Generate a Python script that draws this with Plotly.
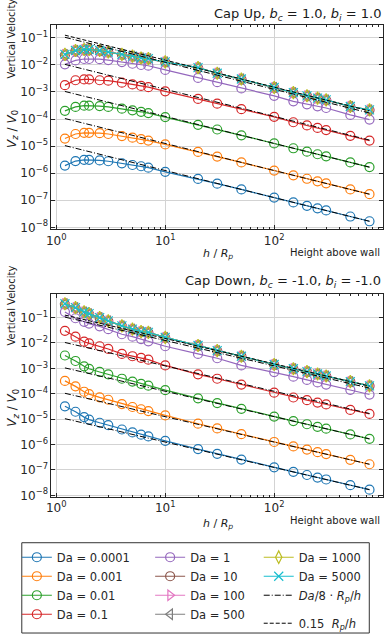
import plotly.graph_objects as go

# heights above the wall, h / R_p
H = [1.2, 1.5, 1.8, 2, 2.5, 3, 4, 5, 6, 7, 10, 20, 30, 50, 100, 150, 200, 250, 300, 500, 750]

DA_LABELS = ["0.0001", "0.001", "0.01", "0.1", "1", "10", "100", "500", "1000", "5000"]

# Cap up, b_c = 1.0, b_i = 1.0
UP_1E4 = [1.9e-6, 2.8e-6, 3.1e-6, 3.1e-6, 2.95e-6, 2.75e-6, 2.3e-6, 2.0e-6, 1.8e-6, 1.6e-6, 1.12e-6,
          6.1e-7, 4.1e-7, 2.5e-7, 1.25e-7, 8.3e-8, 6.2e-8, 5.0e-8, 4.2e-8, 2.5e-8, 1.67e-8]
UP_1E3 = [1.9e-5, 2.8e-5, 3.1e-5, 3.1e-5, 3.0e-5, 2.8e-5, 2.35e-5, 2.05e-5, 1.8e-5, 1.6e-5, 1.15e-5,
          6.1e-6, 4.1e-6, 2.5e-6, 1.25e-6, 8.3e-7, 6.2e-7, 5.0e-7, 4.2e-7, 2.5e-7, 1.67e-7]
UP_1E2 = [2.0e-4, 2.8e-4, 3.1e-4, 3.1e-4, 3.0e-4, 2.8e-4, 2.4e-4, 2.1e-4, 1.85e-4, 1.65e-4, 1.18e-4,
          6.1e-5, 4.1e-5, 2.5e-5, 1.25e-5, 8.3e-6, 6.2e-6, 5.0e-6, 4.2e-6, 2.5e-6, 1.67e-6]
UP_1E1 = [1.78e-3, 2.7e-3, 2.9e-3, 2.9e-3, 2.7e-3, 2.6e-3, 2.2e-3, 1.9e-3, 1.67e-3, 1.5e-3, 1.05e-3,
          5.5e-4, 3.7e-4, 2.3e-4, 1.2e-4, 7.6e-5, 5.8e-5, 4.7e-5, 3.9e-5, 2.4e-5, 1.6e-5]
UP_1 = [1.05e-2, 1.46e-2, 1.65e-2, 1.65e-2, 1.62e-2, 1.5e-2, 1.27e-2, 1.1e-2, 9.9e-3, 9.3e-3, 6.5e-3,
        3.3e-3, 2.3e-3, 1.35e-3, 7.2e-4, 4.5e-4, 3.5e-4, 2.95e-4, 2.55e-4, 1.42e-4, 9.5e-5]
UP_10 = [2.3e-2, 3.3e-2, 3.5e-2, 3.5e-2, 3.3e-2, 2.95e-2, 2.4e-2, 2.05e-2, 1.8e-2, 1.65e-2, 1.27e-2,
         7.8e-3, 4.9e-3, 3.0e-3, 1.45e-3, 9.4e-4, 7.2e-4, 5.9e-4, 5.0e-4, 2.9e-4, 2.15e-4]
UP_HIGH = [2.45e-2, 3.4e-2, 3.7e-2, 3.7e-2, 3.4e-2, 3.0e-2, 2.45e-2, 2.1e-2, 1.8e-2, 1.7e-2, 1.29e-2,
           7.9e-3, 4.9e-3, 3.0e-3, 1.46e-3, 9.4e-4, 7.2e-4, 5.9e-4, 5.1e-4, 2.9e-4, 2.18e-4]

# Cap down, b_c = -1.0, b_i = -1.0
DN_1E4 = [3.2e-5, 1.95e-5, 1.2e-5, 9.6e-6, 7.2e-6, 5.8e-6, 3.9e-6, 3.0e-6, 2.45e-6, 2.08e-6, 1.4e-6,
          6.6e-7, 4.3e-7, 2.55e-7, 1.26e-7, 8.4e-8, 6.3e-8, 5.0e-8, 4.2e-8, 2.5e-8, 1.67e-8]
DN_1E3 = [3.2e-4, 1.95e-4, 1.2e-4, 9.6e-5, 7.2e-5, 5.8e-5, 3.9e-5, 3.0e-5, 2.45e-5, 2.08e-5, 1.4e-5,
          6.6e-6, 4.3e-6, 2.55e-6, 1.26e-6, 8.4e-7, 6.3e-7, 5.0e-7, 4.2e-7, 2.5e-7, 1.67e-7]
DN_1E2 = [3.2e-3, 1.95e-3, 1.2e-3, 9.6e-4, 7.2e-4, 5.8e-4, 3.9e-4, 3.0e-4, 2.45e-4, 2.08e-4, 1.38e-4,
          6.6e-5, 4.3e-5, 2.55e-5, 1.26e-5, 8.4e-6, 6.3e-6, 5.0e-6, 4.2e-6, 2.5e-6, 1.67e-6]
DN_1E1 = [3.0e-2, 1.76e-2, 1.12e-2, 9.6e-3, 7.4e-3, 5.8e-3, 3.7e-3, 3.0e-3, 2.6e-3, 2.2e-3, 1.3e-3,
          5.8e-4, 3.9e-4, 2.3e-4, 1.1e-4, 7.1e-5, 5.6e-5, 4.5e-5, 3.8e-5, 2.3e-5, 1.6e-5]
DN_1 = [0.167, 9.4e-2, 6.8e-2, 5.8e-2, 4.5e-2, 3.5e-2, 2.2e-2, 1.77e-2, 1.42e-2, 1.16e-2, 7.4e-3,
        3.7e-3, 2.5e-3, 1.3e-3, 7.1e-4, 4.7e-4, 3.5e-4, 2.8e-4, 2.3e-4, 1.42e-4, 9.3e-5]
DN_10 = [0.33, 0.235, 0.16, 0.138, 9.7e-2, 7.2e-2, 4.6e-2, 3.4e-2, 2.75e-2, 2.55e-2, 1.62e-2,
         7.8e-3, 4.9e-3, 3.0e-3, 1.4e-3, 9.5e-4, 7.3e-4, 5.9e-4, 5.0e-4, 3.0e-4, 2.03e-4]
DN_HIGH = [0.35, 0.245, 0.167, 0.143, 0.10, 7.4e-2, 4.7e-2, 3.5e-2, 2.8e-2, 2.6e-2, 1.65e-2,
           7.9e-3, 5.0e-3, 3.0e-3, 1.42e-3, 9.6e-4, 7.4e-4, 6.0e-4, 5.0e-4, 3.0e-4, 2.05e-4]

UP = [UP_1E4, UP_1E3, UP_1E2, UP_1E1, UP_1, UP_10, UP_HIGH, UP_HIGH, UP_HIGH, UP_HIGH]
DOWN = [DN_1E4, DN_1E3, DN_1E2, DN_1E1, DN_1, DN_10, DN_HIGH, DN_HIGH, DN_HIGH, DN_HIGH]

# reference scalings
DA_REF = [0.0001, 0.001, 0.01, 0.1, 1]
FAR_COEF = 0.15

COLORS = ["#1f77b4", "#ff7f0e", "#2ca02c", "#d62728", "#9467bd",
          "#8c564b", "#e377c2", "#7f7f7f", "#bcbd22", "#17becf"]
SYMBOLS = ["circle-open"] * 6 + ["triangle-right-open", "triangle-left-open",
                                 "diamond-tall-open", "x-thin"]
# which legend column each Da goes into
COLUMN = ["legend"] * 4 + ["legend2"] * 4 + ["legend3"] * 2

FONT = "DejaVu Sans"
W, HT = 392, 640

fig = go.Figure()

for panel, (data, xa, ya) in enumerate([(UP, "x", "y"), (DOWN, "x2", "y2")]):
    first = panel == 0
    for i, vals in enumerate(data):
        fig.add_trace(go.Scatter(
            x=H, y=vals, xaxis=xa, yaxis=ya, mode="lines+markers",
            name="Da = " + DA_LABELS[i], legend=COLUMN[i], showlegend=first,
            legendgroup="a", line=dict(color=COLORS[i], width=1.2),
            marker=dict(symbol=SYMBOLS[i], size=9, color=COLORS[i],
                        line=dict(color=COLORS[i], width=1.2)),
        ))
    for j, da in enumerate(DA_REF):
        fig.add_trace(go.Scatter(
            x=[H[0], H[-1]], y=[da / 8 / H[0], da / 8 / H[-1]], xaxis=xa, yaxis=ya,
            mode="lines", name="<i>Da</i>/8 · <i>R<sub>p</sub></i>/<i>h</i>",
            legend="legend3", legendgroup="a", showlegend=first and j == 0,
            line=dict(color="black", width=1, dash="6px,2px,1px,2px"),
        ))
    fig.add_trace(go.Scatter(
        x=[H[0], H[-1]], y=[FAR_COEF / H[0], FAR_COEF / H[-1]], xaxis=xa, yaxis=ya,
        mode="lines", name="0.15  <i>R<sub>p</sub></i>/<i>h</i>",
        legend="legend3", legendgroup="b", showlegend=first,
        line=dict(color="black", width=1, dash="4px,2px"),
    ))

minor_x = [m * 10 ** k for k in range(0, 3) for m in range(2, 10)]

axis_common = dict(
    type="log", showline=True, linecolor="#262626", linewidth=1, mirror="allticks",
    ticks="inside", ticklen=4, tickcolor="#262626", showgrid=True, gridcolor="#d3d3d3",
    gridwidth=1, zeroline=False, tickfont=dict(family=FONT, size=12, color="#262626"),
)
xticks = dict(tickvals=[1, 10, 100, 1000],
              ticktext=["10<sup>0</sup>", "10<sup>1</sup>", "10<sup>2</sup>", "10<sup>3</sup>"],
              range=[-0.045, 3.0],
              minor=dict(tickvals=minor_x, ticks="inside", ticklen=2, tickcolor="#262626",
                         showgrid=False))
yticks = dict(tickvals=[10.0 ** k for k in range(-8, 0)],
              ticktext=["10<sup>−%d</sup>" % -k for k in range(-8, 0)])

legend_common = dict(
    orientation="v", yanchor="top", xanchor="left", traceorder="grouped",
    tracegroupgap=9, bgcolor="rgba(0,0,0,0)", borderwidth=0,
    font=dict(family=FONT, size=11.5, color="#262626"),
)

fig.update_layout(
    width=W, height=HT, autosize=False,
    margin=dict(l=0, r=0, t=0, b=0),
    paper_bgcolor="white", plot_bgcolor="white",
    font=dict(family=FONT, size=12, color="#262626"),
    xaxis=dict(domain=[47 / W, 383 / W], anchor="y", **axis_common, **xticks),
    yaxis=dict(domain=[1 - 231 / HT, 1 - 25 / HT], anchor="x", range=[-8.07, -0.52],
               **axis_common, **yticks),
    xaxis2=dict(domain=[47 / W, 383 / W], anchor="y2", **axis_common, **xticks),
    yaxis2=dict(domain=[1 - 501 / HT, 1 - 296 / HT], anchor="x2", range=[-8.07, -0.06],
                **axis_common, **yticks),
    legend=dict(x=12 / W, y=1 - 547 / HT, **legend_common),
    legend2=dict(x=147 / W, y=1 - 547 / HT, **legend_common),
    legend3=dict(x=257 / W, y=1 - 547 / HT, **legend_common),
    showlegend=True,
)

# legend frame
fig.add_shape(type="rect", xref="paper", yref="paper", x0=17 / W, x1=369 / W,
              y0=1 - 638 / HT, y1=1 - 547 / HT, line=dict(color="#333333", width=1),
              fillcolor="rgba(0,0,0,0)", layer="below")

texts = [
    ("Cap Up, <i>b<sub>c</sub></i> = 1.0, <i>b<sub>i</sub></i> = 1.0", 383, 15, "right", 13, 0),
    ("Cap Down, <i>b<sub>c</sub></i> = -1.0, <i>b<sub>i</sub></i> = -1.0", 383, 284, "right", 13, 0),
    ("Vertical Velocity", 7, 39, "center", 10, -90),
    ("Vertical Velocity", 7, 308, "center", 10, -90),
    ("<i>V<sub>z</sub></i> / <i>V</i><sub>0</sub>", 8, 130, "center", 12, -90),
    ("<i>V<sub>z</sub></i> / <i>V</i><sub>0</sub>", 8, 411, "center", 12, -90),
    ("<i>h</i> / <i>R<sub>p</sub></i>", 216, 256, "center", 11, 0),
    ("<i>h</i> / <i>R<sub>p</sub></i>", 216, 528, "center", 11, 0),
    ("Height above wall", 382, 254, "right", 10, 0),
    ("Height above wall", 382, 525, "right", 10, 0),
]
for t, px, py, anchor, size, angle in texts:
    fig.add_annotation(text=t, x=px / W, y=1 - py / HT, xref="paper", yref="paper",
                       xanchor=anchor, yanchor="middle", showarrow=False, textangle=angle,
                       font=dict(family=FONT, size=size, color="#1a1a1a"))

# the page body has a default 8px margin; drop it so the figure fills the window
fig.write_html("out.html", config={"displayModeBar": False},
               post_script="document.body.style.margin='0';")
